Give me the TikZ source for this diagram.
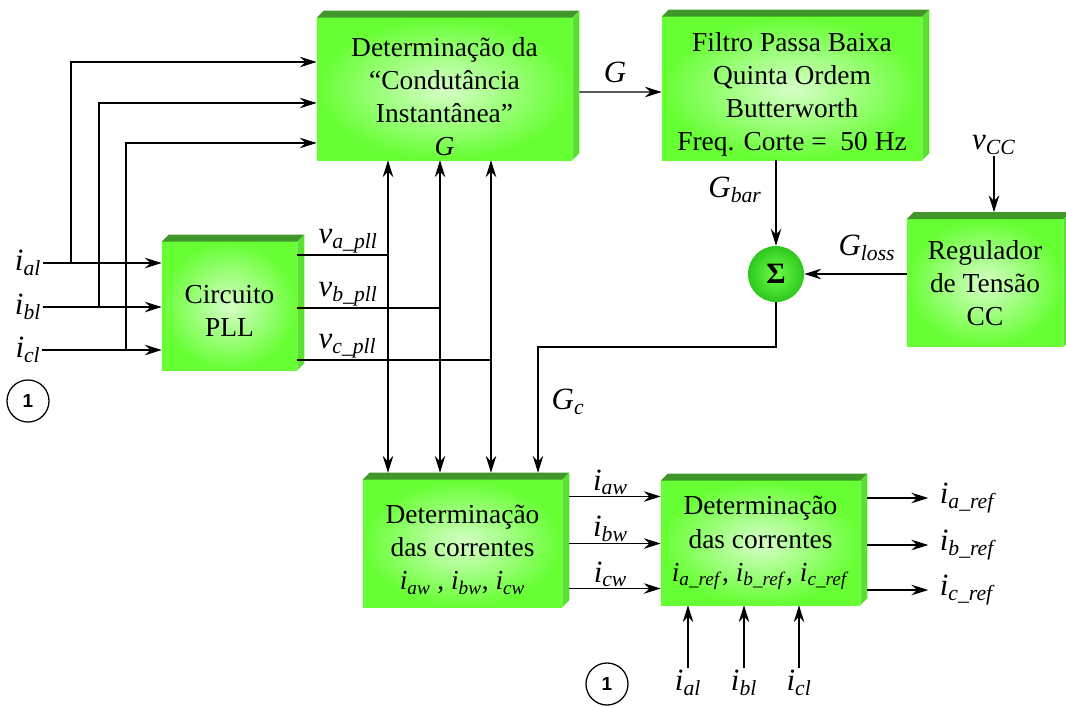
\documentclass[tikz,border=0pt]{standalone}
\usepackage{fontspec}
\setmainfont{Liberation Serif}
\newfontfamily\numfont{Liberation Sans}
\usepackage{tikz}
\usetikzlibrary{arrows.meta, positioning, calc}
\definecolor{boxout}{RGB}{102,255,51}
\definecolor{boxin}{RGB}{215,255,200}
\definecolor{boxtop}{RGB}{64,150,40}
\definecolor{boxside}{RGB}{88,225,45}
\definecolor{sumout}{RGB}{45,200,30}
\definecolor{sumin}{RGB}{110,255,70}
\newcommand{\sub}[2]{\textit{#1}\textsubscript{\textit{#2}}}
\tikzset{
    block_green/.style={rectangle, inner sep=0pt, inner color=boxin, outer color=boxout, align=center, font=\fontsize{19.5}{23.5}\selectfont},
    lbl/.style={inner sep=1pt, font=\fontsize{22}{24}\selectfont},
    arrow/.style={-{Stealth[length=12pt, width=7.5pt, inset=4pt]}, line width=0.9pt},
    both/.style={{Stealth[length=12pt, width=7.5pt, inset=4pt]}-{Stealth[length=12pt, width=7.5pt, inset=4pt]}, line width=0.9pt},
    wire/.style={line width=0.9pt}
}
\begin{document}
\begin{tikzpicture}[x=0.025cm, y=-0.025cm]
            \tikzstyle{sumnode}=[circle, inner sep=0pt, minimum size=1.4cm, inner color=sumin, outer color=sumout, font=\fontsize{21}{24}\selectfont\bfseries]
            \tikzstyle{circ}=[circle, draw, line width=0.9pt, minimum size=1.05cm, inner sep=0pt, font=\fontsize{13.5}{15}\selectfont\numfont\bfseries]
            \useasboundingbox (0,0) rectangle (1066,706);

            % Blocks
            \node (cond) [block_green, minimum width=6.375cm, minimum height=3.55cm] at (444.5,89) {\rule{0pt}{24pt}Determinação da\\“Condutância\\Instantânea”\\\textit{G}};
            \node (filt) [block_green, minimum width=6.5cm, minimum height=3.575cm] at (792,88.5) {\rule{0pt}{22pt}Filtro Passa Baixa\\Quinta Ordem\\Butterworth\\Freq. Corte =\ \ 50 Hz};
            \node (pll) [block_green, minimum width=3.375cm, minimum height=3.2cm] at (229.5,306) {\rule{0pt}{20pt}Circuito\\PLL};
            \node (reg) [block_green, minimum width=3.9cm, minimum height=3.175cm] at (985,283) {Regulador\\de Tensão\\CC};
            \node (cor_w) [block_green, minimum width=4.975cm, minimum height=3.175cm] at (462.5,543.5) {\rule{0pt}{22pt}Determinação\\das correntes\\\sub{i}{aw} , \sub{i}{bw}, \sub{i}{cw}};
            \node (cor_ref) [block_green, minimum width=4.975cm, minimum height=3.1cm] at (760.5,543) {Determinação\\das correntes\\\sub{i}{a\_ref}, \sub{i}{b\_ref}, \sub{i}{c\_ref}};
            \node (sum) [sumnode] at (776,274) {Σ};

            % 3D edges
            \foreach \b in {cond,filt,pll,reg,cor_w,cor_ref}{
                \fill[boxtop] (\b.north west) -- ++(7,-7) -- ($(\b.north east)+(7,-7)$) -- (\b.north east) -- cycle;
                \fill[boxside] (\b.north east) -- ++(7,-7) -- ($(\b.south east)+(7,-7)$) -- (\b.south east) -- cycle;
            }
            \coordinate (cor_w_top) at ($(cor_w.north)+(0,-7)$);
            \coordinate (reg_top) at ($(reg.north)+(0,-7)$);

            % G path
            \draw [arrow] ($(cond.east)+(7,3)$) -- ($(filt.west)+(0,3.5)$);
            \node (lab_G) [lbl] at (615,72) {\textit{G}};
            \draw [arrow] (filt.south -| sum) -- (sum.north);
            \node (lab_Gbar) [lbl] at (735,190) {\sub{G}{bar}};
            \node (lab_vcc) [lbl] at (994,145) {\sub{v}{CC}};
            \draw [arrow] (lab_vcc) -- (lab_vcc |- reg_top);
            \draw [arrow] (reg.west |- sum) -- (sum.east);
            \node (lab_Gloss) [lbl] at (867,248) {\sub{G}{loss}};
            \coordinate (gc_corner) at (538,347);
            \draw [arrow] (sum.south) |- (gc_corner) -- (gc_corner |- cor_w_top);
            \node (lab_Gc) [lbl] at (568,402) {\sub{G}{c}};

            % Inputs and PLL
            \foreach \y/\n/\xj/\dy in {263/a/71/-27, 307/b/99/14, 350/c/126/54}{
                \node (in_\n) [lbl] at (28,\y) {\sub{i}{\n l}};
                \coordinate (j_\n) at (\xj,\y);
                \coordinate (cin_\n) at ($(cond.west)+(0,\dy)$);
                \draw [arrow] (in_\n) -- (in_\n -| pll.west);
                \draw [arrow] (j_\n) |- (cin_\n);
            }
            \foreach \x/\n/\dy in {388/a/-51, 440/b/2, 491/c/54}{
                \coordinate (bus_\n) at (\x,300);
                \coordinate (pout_\n) at ($(pll.east)+(0,\dy)$);
                \draw [both] (cond.south -| bus_\n) -- (cor_w_top -| bus_\n);
                \draw [wire] (pout_\n) -- (pout_\n -| bus_\n);
                \node (lab_v\n) [lbl, above right=0pt and 14pt of pout_\n] {\sub{v}{\n\_pll}};
            }

            % Currents
            \foreach \n/\dy in {aw/-47, bw/0, cw/45}{
                \coordinate (w_\n) at ($(cor_w.east)+(7,\dy)$);
                \draw [arrow] (w_\n) -- (w_\n -| cor_ref.west);
                \node (lab_\n) [lbl, above=0pt of $(w_\n)!0.45!(w_\n -| cor_ref.west)$] {\sub{i}{\n}};
            }
            \foreach \n/\dy in {a/-45, b/2, c/47}{
                \coordinate (r_\n) at ($(cor_ref.east)+(7,\dy)$);
                \coordinate (re_\n) at ($(r_\n)+(61,0)$);
                \draw [arrow] (r_\n) -- (re_\n);
                \node (out_\n) [lbl, right=7pt of re_\n] {\sub{i}{\n\_ref}};
            }
            \foreach \x/\n in {688/a, 744/b, 799/c}{
                \node (bin_\n) [lbl] at (\x,683) {\sub{i}{\n l}};
                \draw [arrow] (bin_\n) -- (bin_\n |- cor_ref.south);
            }

            % Markers
            \node (one_l) [circ] at (28,401) {1};
            \node (one_b) [circ] at (607,684) {1};
\end{tikzpicture}
\end{document}
